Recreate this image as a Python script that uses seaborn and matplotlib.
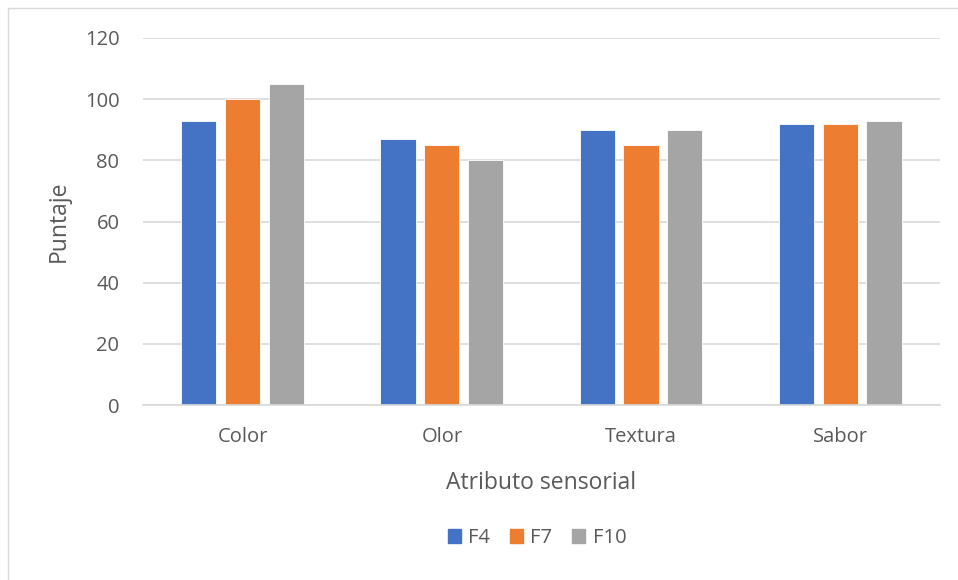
import matplotlib
matplotlib.use("Agg")
import matplotlib.pyplot as plt
from matplotlib.patches import Rectangle
import seaborn as sns
import pandas as pd

categories = ["Color", "Olor", "Textura", "Sabor"]
f4 = [93, 87, 90, 92]
f7 = [100, 85, 85, 92]
f10 = [105, 80, 90, 93]
series_names = ["F4", "F7", "F10"]
y_ticks = [0, 20, 40, 60, 80, 100, 120]

df = pd.DataFrame({
    "Atributo": categories * 3,
    "Serie": [s for s in series_names for _ in categories],
    "Puntaje": f4 + f7 + f10,
})

sns.set_theme(style="white")
plt.rcParams["font.family"] = ["Open Sans", "DejaVu Sans"]
text_color = "#595959"

fig = plt.figure(figsize=(9.58, 5.8), dpi=100)
ax = fig.add_axes([0.1493, 0.3017, 0.981 - 0.1493, 0.9345 - 0.3017])

palette = ["#4472C4", "#ED7D31", "#A5A5A5"]
sns.barplot(data=df, x="Atributo", y="Puntaje", hue="Serie", order=categories,
            hue_order=series_names, palette=palette, width=0.66, gap=0.2,
            saturation=1, ax=ax, legend=True, edgecolor="white", linewidth=0.6)

ax.set_ylim(0, 120)
ax.set_xlim(-0.5, 3.5)
ax.set_yticks(y_ticks)
ax.set_yticklabels([str(t) for t in y_ticks])
ax.yaxis.grid(True, color="#D9D9D9", linewidth=1.2)
ax.set_axisbelow(True)
for s in ["top", "right", "left"]:
    ax.spines[s].set_visible(False)
ax.spines["bottom"].set_color("#D9D9D9")
ax.spines["bottom"].set_linewidth(1.2)
ax.tick_params(axis="both", length=0, labelsize=14.5, colors=text_color)
ax.tick_params(axis="y", pad=17)
ax.tick_params(axis="x", pad=16)

ax.set_ylabel("Puntaje", fontsize=16.5, color=text_color, labelpad=10)
ax.set_xlabel("Atributo sensorial", fontsize=16.5, color=text_color, labelpad=17)

ax.legend_.remove()
handles = [Rectangle((0, 0), 1, 1, color=c) for c in palette]
fig.legend(handles, series_names, loc="center", bbox_to_anchor=(537 / 958, 1 - 538 / 580),
           ncol=3, frameon=False, fontsize=14.5, labelcolor=text_color,
           handlelength=0.65, handleheight=0.65, handletextpad=0.35, columnspacing=1.0)

# chart frame
fig.patches.append(Rectangle((8 / 958, -0.01), 1.0, 1 - 8 / 580 + 0.01,
                             transform=fig.transFigure, fill=False,
                             edgecolor="#D9D9D9", linewidth=1.0))

fig.savefig("out.png", dpi=100)
